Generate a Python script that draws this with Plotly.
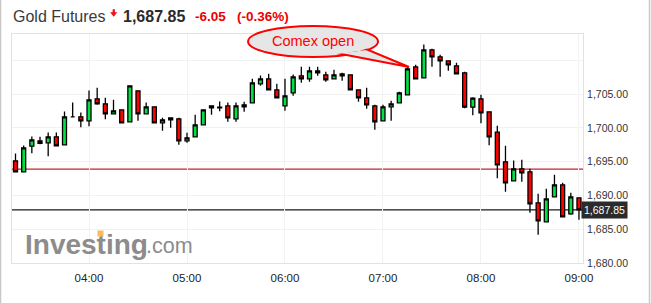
import plotly.graph_objects as go
import pandas as pd

# ---------------- data ----------------
start_time = "2020-01-01 03:15"
opens = [1695.12, 1693.49, 1697.28, 1698.08, 1697.78, 1698.67, 1697.49, 1701.63, 1701.63, 1701.04,
         1704.29, 1703.55, 1702.07, 1702.66, 1700.89, 1705.47, 1702.07, 1703.11, 1700.74, 1701.48,
         1701.33, 1698.08, 1698.67, 1700.44, 1703.25, 1702.96, 1703.25, 1701.33, 1703.11, 1703.70,
         1706.51, 1707.25, 1705.62, 1703.25, 1705.18, 1707.69, 1707.25, 1708.43, 1707.84, 1707.25,
         1707.69, 1707.84, 1705.62, 1704.44, 1703.25, 1701.04, 1703.11, 1703.70, 1704.88, 1709.02,
         1707.40, 1711.54, 1710.50, 1709.91, 1709.17, 1708.14, 1703.05, 1704.29, 1702.37, 1699.35,
         1694.97, 1692.16, 1693.93, 1693.49, 1688.91, 1686.09, 1689.79, 1691.57, 1687.28, 1689.64]
highs = [1696.20, 1697.38, 1698.71, 1698.67, 1699.30, 1699.30, 1702.41, 1703.74, 1702.26, 1705.52,
         1705.92, 1704.44, 1704.14, 1702.66, 1706.21, 1705.47, 1703.74, 1703.11, 1701.48, 1701.48,
         1701.48, 1699.26, 1701.92, 1702.66, 1703.25, 1703.89, 1703.74, 1703.74, 1703.85, 1707.25,
         1707.74, 1708.00, 1706.51, 1707.25, 1707.88, 1709.02, 1709.02, 1709.02, 1708.28, 1708.58,
         1708.14, 1707.84, 1705.62, 1705.92, 1703.40, 1703.40, 1703.99, 1705.33, 1709.02, 1709.32,
         1712.32, 1711.69, 1710.80, 1709.91, 1709.62, 1708.28, 1704.53, 1704.88, 1702.37, 1700.30,
         1697.34, 1695.16, 1695.27, 1693.93, 1690.24, 1690.98, 1693.05, 1691.86, 1690.38, 1689.64]
lows = [1693.49, 1693.49, 1696.24, 1697.57, 1695.80, 1697.30, 1697.49, 1701.63, 1700.09, 1700.24,
        1703.40, 1701.27, 1702.07, 1700.74, 1700.89, 1701.04, 1702.07, 1700.74, 1699.56, 1700.00,
        1697.49, 1697.78, 1698.67, 1700.44, 1701.92, 1702.46, 1700.89, 1700.89, 1702.37, 1703.70,
        1706.21, 1705.62, 1704.44, 1702.51, 1704.73, 1706.66, 1706.80, 1707.69, 1706.80, 1707.25,
        1706.95, 1705.62, 1703.85, 1702.81, 1699.70, 1701.04, 1701.04, 1703.70, 1704.88, 1707.25,
        1707.40, 1709.02, 1707.54, 1708.43, 1707.99, 1702.90, 1701.86, 1700.68, 1697.43, 1692.54,
        1690.53, 1692.16, 1692.01, 1687.43, 1684.17, 1686.09, 1689.79, 1686.83, 1687.13, 1686.39]
closes = [1693.49, 1697.04, 1698.22, 1697.72, 1698.67, 1697.34, 1701.63, 1701.63, 1701.04, 1704.14,
          1703.55, 1702.07, 1702.51, 1700.74, 1706.21, 1702.07, 1703.11, 1700.74, 1701.18, 1701.18,
          1698.08, 1698.52, 1700.44, 1702.66, 1702.96, 1703.07, 1701.48, 1703.25, 1703.40, 1706.66,
          1707.25, 1705.62, 1704.44, 1704.73, 1707.54, 1707.25, 1708.43, 1708.14, 1707.10, 1707.84,
          1707.99, 1705.62, 1704.44, 1703.40, 1700.89, 1703.11, 1703.55, 1705.18, 1708.73, 1707.25,
          1711.54, 1710.50, 1709.91, 1709.32, 1707.99, 1703.05, 1704.38, 1702.22, 1698.67, 1694.53,
          1691.86, 1693.93, 1693.34, 1688.76, 1686.24, 1689.50, 1691.57, 1686.83, 1689.79, 1687.85]
prev_close = 1693.90
last_price = 1687.85
change_text = "-6.05"
change_pct_text = "(-0.36%)"
y_tick_vals = [1680, 1685, 1690, 1695, 1700, 1705, 1710]
y_tick_text = ["1,680.00", "1,685.00", "1,690.00", "1,695.00", "1,700.00", "1,705.00", ""]
x_tick_vals = ["2020-01-01 04:00", "2020-01-01 05:00", "2020-01-01 06:00",
               "2020-01-01 07:00", "2020-01-01 08:00", "2020-01-01 09:00"]
x_tick_text = ["04:00", "05:00", "06:00", "07:00", "08:00", "09:00"]

times = pd.date_range(start_time, periods=len(opens), freq="5min")

# ---------------- layout geometry ----------------
W, H = 651, 303
ML, MR, MT, MB = 12, 68, 34, 40
PW, PH = W - ML - MR, H - MT - MB


def px(x):
    return (x - ML) / PW


def py(y):
    return (H - MB - y) / PH


FONT = "Liberation Sans, Arial, sans-serif"

fig = go.Figure()
fig.add_trace(go.Candlestick(
    x=times, open=opens, high=highs, low=lows, close=closes,
    increasing=dict(fillcolor="#00e145", line=dict(color="#000000", width=1.3)),
    decreasing=dict(fillcolor="#ff0000", line=dict(color="#000000", width=1.3)),
    whiskerwidth=0, hoverinfo="skip", showlegend=False,
))

shapes = []
# reference lines
shapes.append(dict(type="line", xref="paper", x0=0, x1=1, yref="y", y0=prev_close, y1=prev_close,
                   line=dict(color="#c8202a", width=1.2), layer="below"))
shapes.append(dict(type="line", xref="paper", x0=0, x1=1, yref="y", y0=last_price, y1=last_price,
                   line=dict(color="#1a1a1a", width=1.2), layer="below"))
# outer widget borders
shapes.append(dict(type="line", xref="paper", yref="paper", x0=px(0.5), x1=px(0.5), y0=py(0), y1=py(H),
                   line=dict(color="#c8c8c8", width=1.5)))
shapes.append(dict(type="line", xref="paper", yref="paper", x0=px(649.5), x1=px(649.5), y0=py(0), y1=py(H),
                   line=dict(color="#c8c8c8", width=1.5)))
# down arrow in header
arrow_path = "M {a},{b} L {c},{b} L {c},{d} L {e},{d} L {f},{g} L {h},{d} L {i},{d} L {i},{b} Z".format(
    a=px(112.6), b=py(9.3), c=px(114.9), d=py(12.3), e=px(117.3), f=px(113.7), g=py(16.8),
    h=px(110.1), i=px(112.6))
shapes.append(dict(type="path", xref="paper", yref="paper", path=arrow_path,
                   fillcolor="#e8141b", line=dict(width=0)))
# callout: ellipse + tail
ell = dict(x0=px(248), x1=px(378), y0=py(57), y1=py(26))
shapes.append(dict(type="circle", xref="paper", yref="paper", **ell,
                   fillcolor="#e6e6e6", line=dict(color="#ff0000", width=2)))
tail = "M {},{} L {},{} L {},{} Z".format(px(336), py(53), px(409), py(67), px(366), py(49))
shapes.append(dict(type="path", xref="paper", yref="paper", path=tail,
                   fillcolor="#e6e6e6", line=dict(color="#ff0000", width=2)))
shapes.append(dict(type="circle", xref="paper", yref="paper",
                   x0=px(250), x1=px(376), y0=py(55), y1=py(28),
                   fillcolor="#e6e6e6", line=dict(width=0)))

annotations = [
    dict(text="Gold Futures", x=px(11), y=py(16), xanchor="left", yanchor="middle",
         font=dict(family=FONT, size=16, color="#3a3a3a")),
    dict(text="<b>1,687.85</b>", x=px(121), y=py(16), xanchor="left", yanchor="middle",
         font=dict(family=FONT, size=16, color="#2a2a2a")),
    dict(text="<b>" + change_text + "</b>", x=px(193), y=py(16.5), xanchor="left", yanchor="middle",
         font=dict(family=FONT, size=13.5, color="#ee0000")),
    dict(text="<b>" + change_pct_text + "</b>", x=px(235), y=py(16.5), xanchor="left", yanchor="middle",
         font=dict(family=FONT, size=13.5, color="#ee0000")),
    dict(text="Comex open", x=px(313), y=py(41), xanchor="center", yanchor="middle",
         font=dict(family=FONT, size=14.5, color="#ff0000")),
    dict(text="<b>Investing</b>", x=px(23), y=py(244), xanchor="left", yanchor="middle",
         font=dict(family=FONT, size=28, color="#8c8c8c")),
    dict(text=".com", x=px(144), y=py(245.5), xanchor="left", yanchor="middle",
         font=dict(family=FONT, size=21.5, color="#8c8c8c")),
    # orange accent on the logo's 't'
    dict(text=".", x=px(100.5), y=py(233), xanchor="center", yanchor="middle",
         width=5, height=5, borderpad=0, bgcolor="#f7bb5a",
         font=dict(family=FONT, size=3, color="#f7bb5a")),
    dict(text="1,687.85", xref="paper", x=1, xanchor="left", xshift=-2, yref="y", y=last_price,
         yanchor="middle", bgcolor="#2b2b2b", borderpad=2, showarrow=False,
         font=dict(family=FONT, size=10.5, color="#ffffff")),
]
for a in annotations:
    a.setdefault("xref", "paper")
    a.setdefault("yref", "paper")
    a["showarrow"] = False

fig.update_layout(
    width=W, height=H,
    margin=dict(l=ML, r=MR, t=MT, b=MB, pad=0),
    paper_bgcolor="#ffffff", plot_bgcolor="#ffffff",
    shapes=shapes, annotations=annotations,
    font=dict(family=FONT),
    hovermode=False,
    xaxis=dict(
        type="date",
        range=["2020-01-01 03:12:51", "2020-01-01 09:02:28"],
        tickvals=x_tick_vals, ticktext=x_tick_text,
        tickfont=dict(family=FONT, size=11.5, color="#222222"),
        showgrid=True, gridcolor="#f2f2f2", gridwidth=1,
        showline=True, linecolor="#e2e2e2", linewidth=1, mirror=True,
        ticks="", ticklabelstandoff=4,
        rangeslider=dict(visible=False), zeroline=False, fixedrange=True,
    ),
    yaxis=dict(
        side="right",
        range=[1680, 1713.88],
        tickvals=y_tick_vals, ticktext=y_tick_text,
        tickfont=dict(family=FONT, size=10.5, color="#333333"),
        showgrid=True, gridcolor="#f2f2f2", gridwidth=1,
        showline=True, linecolor="#e2e2e2", linewidth=1, mirror=True,
        ticks="", ticklabelstandoff=1, zeroline=False, fixedrange=True,
    ),
)

fig.write_html("out.html", config={"displayModeBar": False})
